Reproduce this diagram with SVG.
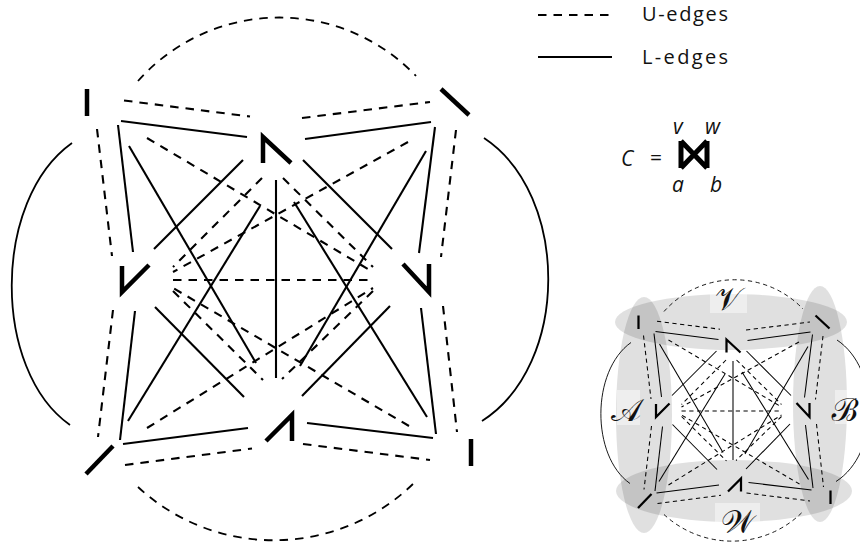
<svg xmlns="http://www.w3.org/2000/svg" xmlns:xlink="http://www.w3.org/1999/xlink" width="860" height="550" viewBox="0 0 860 550">
<style>
.u{fill:none;stroke:#000;stroke-width:2.1;stroke-dasharray:8.5 7}
.l{fill:none;stroke:#000;stroke-width:2.1}
.a{fill:none;stroke:#000;stroke-width:1.8}
.au{fill:none;stroke:#000;stroke-width:1.8;stroke-dasharray:8.5 7}
.n{fill:none;stroke:#000;stroke-width:4.5;stroke-linejoin:miter;stroke-linecap:butt}
.t{font-family:"Open Sans","Liberation Sans",sans-serif;font-size:20px;fill:#111}
.m{font-family:"Open Sans","Liberation Sans",sans-serif;font-style:italic;font-size:21px;fill:#111}
.g{fill:#000;fill-opacity:0.12}
.bx{fill:#fff;fill-opacity:0.45}
.cal{font-family:"DejaVu Serif","Noto Sans",serif;font-size:32px;fill:#111;text-anchor:middle}
</style>
<rect width="860" height="550" fill="#fff"/>

<!-- Legend -->
<g id="legend">
  <line x1="538" y1="15" x2="612" y2="15" class="u"/>
  <text x="642" y="21" class="t" textLength="86" lengthAdjust="spacing">U-edges</text>
  <line x1="538" y1="57" x2="612" y2="57" class="l"/>
  <text x="642" y="64" class="t" textLength="86" lengthAdjust="spacing">L-edges</text>
</g>

<!-- C formula -->
<g id="formula">
  <text x="621" y="166" class="m">C</text>
  <text x="650" y="165" class="m" style="font-style:normal">=</text>
  <path d="M681,141 V168 M707,141 V168 M681,141 L707,168 M681,168 L707,141" class="n" style="stroke-width:5"/>
  <text x="673" y="134" class="m">v</text>
  <text x="705" y="134" class="m">w</text>
  <text x="672" y="192" class="m">a</text>
  <text x="710" y="192" class="m">b</text>
</g>

<!-- Main diagram -->
<g id="main">
  <g id="connectors">
    <path class="au" d="M138,81 A189,189 0 0 1 416,76"/>
    <path class="au" d="M138,487 A200,200 0 0 0 416,481"/>
    <path class="a" d="M72,143 C-8,200 -8,370 70,425"/>
    <path class="a" d="M484,138 C570,195 570,365 482,421"/>
    <path class="u" d="M124,100.5 L250,116.5"/>
    <path class="u" d="M302,118 L430,102"/>
    <path class="u" d="M97,129 L112,256"/>
    <path class="u" d="M456,130 L441,257"/>
    <path class="u" d="M113,310 L98,437"/>
    <path class="u" d="M443,306 L457,432"/>
    <path class="u" d="M125,465 L252,448.5"/>
    <path class="u" d="M303,444 L430,460"/>
    <path class="u" d="M147,138 L373,272"/>
    <path class="u" d="M408,142 L173,272"/>
    <path class="u" d="M147,428 L373,288"/>
    <path class="u" d="M409,426 L173,288"/>
    <path class="u" d="M173,280 L373,280"/>
    <path class="u" d="M262,178 L173,267"/>
    <path class="u" d="M283,178 L373,267"/>
    <path class="u" d="M173,291 L263,380"/>
    <path class="u" d="M373,291 L282,379"/>
    <path class="l" d="M121,121 L247,137"/>
    <path class="l" d="M305,139 L431,122"/>
    <path class="l" d="M118,125 L133,252"/>
    <path class="l" d="M435,127 L419,253"/>
    <path class="l" d="M135,311 L120,440"/>
    <path class="l" d="M421,308 L436,434"/>
    <path class="l" d="M123,444 L248,428"/>
    <path class="l" d="M307,423 L433,438"/>
    <path class="l" d="M276,180 L276,378"/>
    <path class="l" d="M129,146 L256,363"/>
    <path class="l" d="M260,206 L128,421"/>
    <path class="l" d="M294,202 L427,417"/>
    <path class="l" d="M426,151 L300,366"/>
    <path class="l" d="M243,160 L154,249"/>
    <path class="l" d="M303,160 L392,249"/>
    <path class="l" d="M155,307 L244,397"/>
    <path class="l" d="M390,306 L302,396"/>
  </g>
  <g id="node-tl"><path class="n" d="M87,89 V116"/></g>
  <g id="node-t"><path class="n" d="M263,163 V137 L291,163"/></g>
  <g id="node-tr"><path class="n" d="M441,89 L469,115"/></g>
  <g id="node-l"><path class="n" d="M122,266 V292 L149,265"/></g>
  <g id="node-r"><path class="n" d="M403,264 L429,292 V264"/></g>
  <g id="node-b"><path class="n" d="M266,441 L292,415 V441"/></g>
  <g id="node-bl"><path class="n" d="M86,474 L113,446"/></g>
  <g id="node-br"><path class="n" d="M471,439 V466"/></g>
</g>

<!-- Small diagram -->
<g id="small">
  <ellipse class="g" cx="731" cy="322" rx="116" ry="28"/>
  <ellipse class="g" cx="734" cy="491" rx="118" ry="31"/>
  <ellipse class="g" cx="644" cy="415" rx="28" ry="118"/>
  <ellipse class="g" cx="820" cy="404" rx="27" ry="118"/>
  <rect class="bx" x="710" y="293" width="37" height="20"/>
  <rect class="bx" x="617" y="390" width="23" height="35"/>
  <rect class="bx" x="835" y="390" width="25" height="34"/>
  <rect class="bx" x="715" y="503" width="45" height="24"/>
  <use xlink:href="#main" href="#main" transform="translate(595,271) scale(0.5)"/>
  <text class="cal" x="728" y="310">𝒱</text>
  <text class="cal" x="626" y="421">𝒜</text>
  <text class="cal" x="845" y="421">ℬ</text>
  <text class="cal" x="738" y="533">𝒲</text>
</g>
</svg>
